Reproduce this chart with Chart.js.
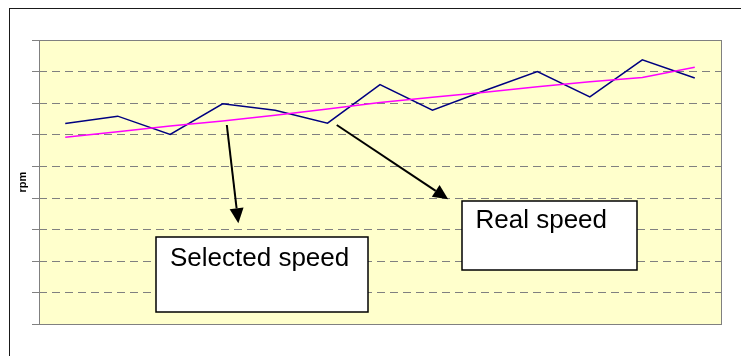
<!DOCTYPE html>
<html>
<head>
<meta charset="utf-8">
<style>
  html, body { margin: 0; padding: 0; background: #ffffff; }
  #wrap { width: 741px; height: 356px; position: relative; }
  canvas { display: block; }
</style>
<script src="https://cdn.jsdelivr.net/npm/chart.js@4/dist/chart.umd.min.js"></script>
</head>
<body>
<div id="wrap"><canvas id="c" width="741" height="356"></canvas></div>
<script>
// Sample points along the run
const categories = ['1', '2', '3', '4', '5', '6', '7', '8', '9', '10', '11', '12', '13'];

// Set-point speed (rpm)
const selectedSpeed = [592, 610, 628, 644, 662, 682, 702, 719, 735, 752, 768, 781, 814];

// Measured speed (rpm)
const realSpeed = [636, 659, 601, 698, 678, 637, 759, 678, 740, 800, 720, 837, 780];

// Value axis range and grid step (rpm)
const yMin = 0;
const yMax = 900;
const yStep = 100;

// Callout boxes and arrows, placed in data units (category index, rpm)
const callouts = [
  { text: 'Selected speed', box: { x1: 1.73, x2: 5.77, y1: 276, y2: 39 }, textDx: 14, textDy: 28.5,
    arrow: { x1: 3.08, y1: 631, x2: 3.30, y2: 320 } },
  { text: 'Real speed', box: { x1: 7.56, x2: 10.89, y1: 391, y2: 171 }, textDx: 13.5, textDy: 26.5,
    arrow: { x1: 5.175, y1: 631, x2: 7.30, y2: 396 } }
];

const align = v => Math.round(v - 0.5) + 0.5;

// Outer frame, pale plot background and plot border
const framePlugin = {
  id: 'frame',
  beforeDraw(chart) {
    const { ctx, chartArea: a } = chart;
    ctx.save();
    ctx.fillStyle = '#ffffff';
    ctx.fillRect(0, 0, chart.width, chart.height);
    ctx.strokeStyle = '#1a1a1a';
    ctx.lineWidth = 1;
    ctx.strokeRect(9.5, 8.5, chart.width + 20, chart.height + 20);
    ctx.fillStyle = '#FFFFCC';
    ctx.fillRect(a.left, a.top, a.right - a.left, a.bottom - a.top);
    ctx.restore();
  },
  beforeDatasetsDraw(chart) {
    const { ctx, chartArea: a } = chart;
    ctx.save();
    ctx.strokeStyle = '#808080';
    ctx.lineWidth = 1;
    const l = align(a.left), t = align(a.top), r = align(a.right), b = align(a.bottom);
    ctx.strokeRect(l, t, r - l, b - t);
    ctx.restore();
  }
};

// Text callouts with arrows pointing at the lines
const calloutPlugin = {
  id: 'callouts',
  afterDatasetsDraw(chart) {
    const { ctx } = chart;
    const xs = chart.scales.x, ys = chart.scales.y;
    ctx.save();
    callouts.forEach(c => {
      // arrow shaft
      const ax1 = xs.getPixelForValue(c.arrow.x1), ay1 = ys.getPixelForValue(c.arrow.y1);
      const ax2 = xs.getPixelForValue(c.arrow.x2), ay2 = ys.getPixelForValue(c.arrow.y2);
      const ang = Math.atan2(ay2 - ay1, ax2 - ax1);
      const headLen = 15, headHalf = 7;
      const bx = ax2 - headLen * Math.cos(ang), by = ay2 - headLen * Math.sin(ang);
      ctx.strokeStyle = '#000000';
      ctx.lineWidth = 2;
      ctx.beginPath();
      ctx.moveTo(ax1, ay1);
      ctx.lineTo(bx, by);
      ctx.stroke();
      // arrow head
      ctx.fillStyle = '#000000';
      ctx.beginPath();
      ctx.moveTo(ax2, ay2);
      ctx.lineTo(bx + headHalf * Math.sin(ang), by - headHalf * Math.cos(ang));
      ctx.lineTo(bx - headHalf * Math.sin(ang), by + headHalf * Math.cos(ang));
      ctx.closePath();
      ctx.fill();

      // box
      const x1 = Math.round(xs.getPixelForValue(c.box.x1));
      const x2 = Math.round(xs.getPixelForValue(c.box.x2));
      const y1 = Math.round(ys.getPixelForValue(c.box.y1));
      const y2 = Math.round(ys.getPixelForValue(c.box.y2));
      ctx.fillStyle = '#ffffff';
      ctx.fillRect(x1, y1, x2 - x1, y2 - y1);
      ctx.strokeStyle = '#000000';
      ctx.lineWidth = 1.5;
      ctx.strokeRect(x1, y1, x2 - x1, y2 - y1);

      // label
      ctx.fillStyle = '#000000';
      ctx.font = '26px "Liberation Sans", Arial, sans-serif';
      ctx.textBaseline = 'alphabetic';
      ctx.textAlign = 'left';
      ctx.fillText(c.text, x1 + c.textDx, y1 + c.textDy);
    });
    ctx.restore();
  }
};

new Chart(document.getElementById('c'), {
  type: 'line',
  data: {
    labels: categories,
    datasets: [
      {
        label: 'Selected speed',
        data: selectedSpeed,
        borderColor: '#FF00FF',
        backgroundColor: '#FF00FF',
        borderWidth: 1.5,
        pointRadius: 0,
        tension: 0,
        fill: false
      },
      {
        label: 'Real speed',
        data: realSpeed,
        borderColor: '#000080',
        backgroundColor: '#000080',
        borderWidth: 1.5,
        pointRadius: 0,
        tension: 0,
        fill: false
      }
    ]
  },
  options: {
    responsive: false,
    animation: false,
    events: [],
    layout: { padding: { left: 16.8, top: 40, right: 20, bottom: 31.6 } },
    plugins: {
      legend: { display: false },
      tooltip: { enabled: false },
      title: { display: false }
    },
    scales: {
      x: {
        type: 'category',
        display: false,
        offset: true
      },
      y: {
        min: yMin,
        max: yMax,
        ticks: { stepSize: yStep, display: false },
        grid: {
          color: '#808080',
          lineWidth: 1,
          drawTicks: true,
          tickLength: 7,
          tickColor: '#808080',
          tickBorderDash: []
        },
        border: { display: false, dash: [8, 5] },
        title: {
          display: true,
          text: 'rpm',
          color: '#000000',
          font: { family: '"Liberation Sans", Arial, sans-serif', size: 11, weight: 'bold', lineHeight: 1.2 },
          padding: { top: 0, bottom: 2 }
        }
      }
    }
  },
  plugins: [framePlugin, calloutPlugin]
});
</script>
</body>
</html>
